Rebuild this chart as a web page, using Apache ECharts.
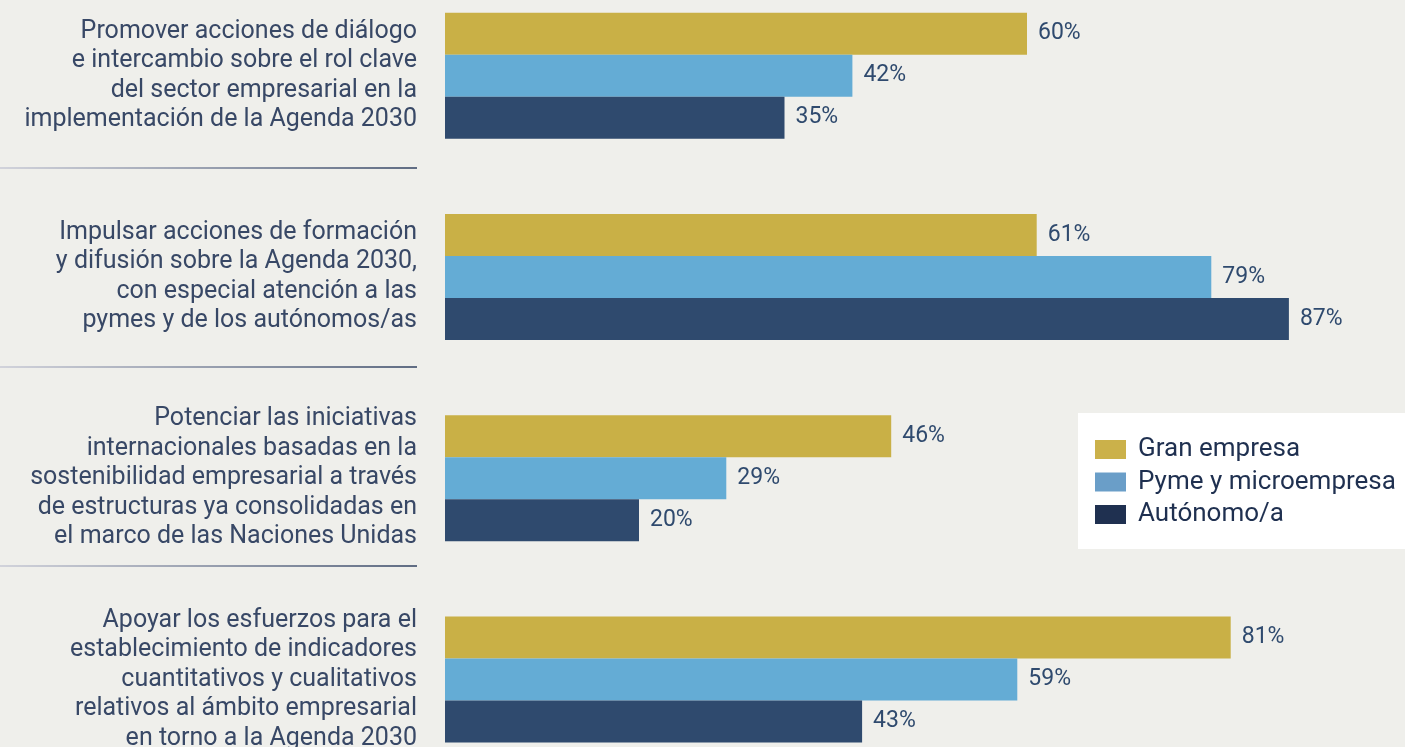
<!DOCTYPE html>
<html>
<head>
<meta charset="utf-8">
<script src="https://cdn.jsdelivr.net/npm/echarts@6/dist/echarts.min.js"></script>
<style>
  html, body { margin: 0; padding: 0; background: #efefeb; overflow: hidden; }
  #main { position: absolute; left: 0; top: -25px; width: 1425px; height: 805px; }
</style>
</head>
<body>
<div id="main"></div>
<script>
(function () {
  var myChart = echarts.init(document.getElementById('main'));

  // categories (one per group of bars)
  var categories = [
    'Promover acciones de diálogo\ne intercambio sobre el rol clave\ndel sector empresarial en la\nimplementación de la Agenda 2030',
    'Impulsar acciones de formación\ny difusión sobre la Agenda 2030,\ncon especial atención a las\npymes y de los autónomos/as',
    'Potenciar las iniciativas\ninternacionales basadas en la\nsostenibilidad empresarial a través\nde estructuras ya consolidadas en\nel marco de las Naciones Unidas',
    'Apoyar los esfuerzos para el\nestablecimiento de indicadores\ncuantitativos y cualitativos\nrelativos al ámbito empresarial\nen torno a la Agenda 2030'
  ];
  var seriesNames = ['Gran empresa', 'Pyme y microempresa', 'Autónomo/a'];
  var granEmpresa = [60, 61, 46, 81];
  var pyme = [42, 79, 29, 59];
  var autonomo = [35, 87, 20, 43];

  var barColors = ['#c9b046', '#64acd5', '#2f4a6e'];
  var legendColors = ['#cbb14a', '#6a9ec8', '#1f3050'];
  var values = [granEmpresa, pyme, autonomo];

  var series = values.map(function (v, i) {
    return {
      name: seriesNames[i],
      type: 'bar',
      data: v,
      barWidth: 42,
      barGap: '0%',
      itemStyle: { color: barColors[i] },
      label: {
        show: true,
        position: 'right',
        distance: 11,
        formatter: '{c}%',
        color: '#2f4a6e',
        fontFamily: 'Roboto',
        fontSize: 23
      },
      emphasis: { disabled: true }
    };
  });

  // separator lines between groups, fading from light to dark
  // (the chart div sits 25px above the page top)
  var sepY = [193, 392, 591];
  var graphics = sepY.map(function (y) {
    return {
      type: 'line',
      shape: { x1: 0, y1: y, x2: 417, y2: y },
      style: {
        lineWidth: 1.5,
        stroke: new echarts.graphic.LinearGradient(0, 0, 1, 0, [
          { offset: 0, color: '#c8cad6' },
          { offset: 1, color: '#2f4060' }
        ])
      }
    };
  });

  var option = {
    backgroundColor: '#efefeb',
    animation: false,
    grid: { left: 445, top: 0, width: 970, height: 805 },
    xAxis: { type: 'value', min: 0, max: 100, show: false },
    yAxis: {
      type: 'category',
      inverse: true,
      data: categories,
      axisLine: { show: false },
      axisTick: { show: false },
      axisLabel: {
        margin: 28,
        align: 'right',
        fontFamily: 'Roboto',
        fontSize: 25,
        lineHeight: 29.5,
        color: '#384866'
      }
    },
    legend: {
      orient: 'vertical',
      left: 1078,
      top: 438,
      padding: [23.5, 40, 21.5, 17],
      backgroundColor: '#ffffff',
      itemWidth: 31,
      itemHeight: 19,
      itemGap: 6.5,
      selectedMode: false,
      textStyle: {
        fontFamily: 'Roboto',
        fontSize: 26,
        lineHeight: 26,
        color: '#1f3050',
        padding: [0, 0, 0, 7]
      },
      data: seriesNames.map(function (n, i) {
        return { name: n, icon: 'rect', itemStyle: { color: legendColors[i] } };
      })
    },
    graphic: graphics,
    series: series
  };

  myChart.setOption(option);
})();
</script>
</body>
</html>
